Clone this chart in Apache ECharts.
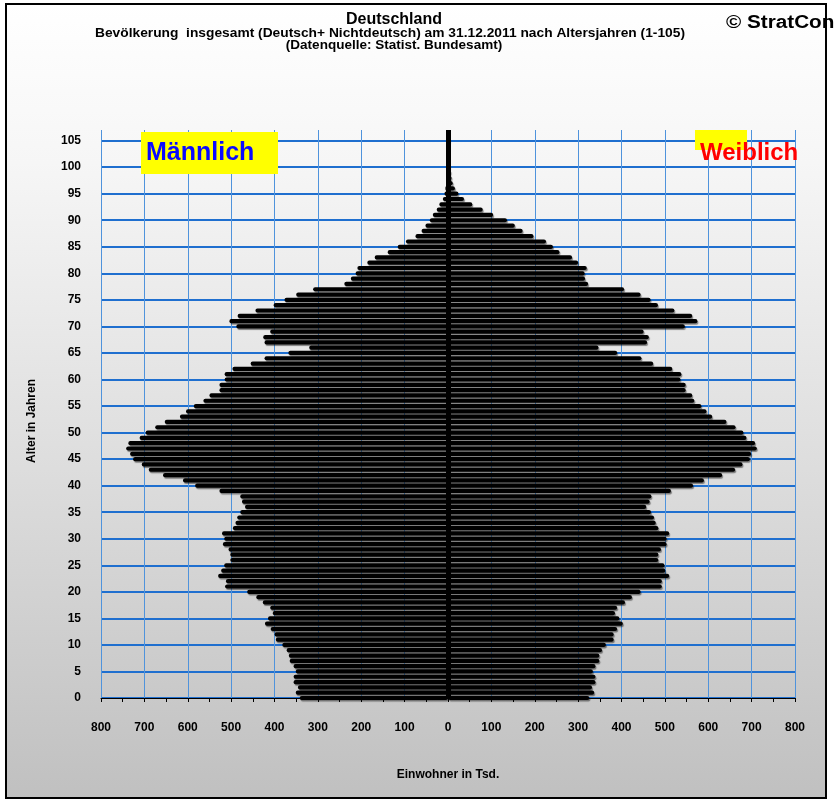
<!DOCTYPE html>
<html>
<head>
<meta charset="utf-8">
<script src="https://cdn.jsdelivr.net/npm/echarts@6/dist/echarts.min.js"></script>
<style>
html,body{margin:0;padding:0;background:#fff;}
#bg{position:absolute;left:5px;top:3px;width:822px;height:796px;background:linear-gradient(#ffffff 0%,#f6f6f6 20%,#dcdcdc 60%,#c0c0c0 100%);}
#chart{position:absolute;left:0;top:0;width:836px;height:801px;}
#border{position:absolute;left:5px;top:3px;width:818px;height:792px;border:2px solid #000;pointer-events:none;}
</style>
</head>
<body>
<div id="bg"></div>
<div id="chart"></div>
<div id="border"></div>
<script>
// ages 0..105
const ages = Array.from({length: 106}, (_, i) => i);
const maleValues = [
342,351,346,356,356,351,356,365,367,372,
382,397,400,409,422,415,404,410,427,442,
463,514,512,530,523,516,502,502,506,519,
516,521,496,490,486,479,468,475,479,527,
583,611,657,690,706,726,733,742,737,711,
697,675,653,618,604,586,564,550,527,527,
515,515,497,455,423,368,320,423,426,410,
488,504,485,444,402,377,350,311,239,224,
213,209,186,169,139,116,97,75,61,52,
42,35,26,20,12,8,6,4,3,2,
3,1,1,0.5,0.3,3
];
const femaleValues = [
326,337,332,340,340,334,340,349,349,355,
364,382,382,390,403,395,385,390,408,424,
444,493,493,510,501,499,485,485,491,504,
504,510,485,479,475,468,457,465,469,514,
565,590,632,662,679,696,699,712,708,688,
681,663,642,609,596,584,568,563,548,548,
536,538,517,473,446,390,347,459,463,451,
546,575,563,522,484,467,444,406,323,316,
315,320,300,286,257,242,226,197,172,154,
136,104,80,56,37,24,16,11,8,6,
4,2,1.5,1,0.5,4
];
const titleText = 'Deutschland';
const subtitle1 = 'Bevölkerung  insgesamt (Deutsch+ Nichtdeutsch) am 31.12.2011 nach Altersjahren (1-105)';
const subtitle2 = '(Datenquelle: Statist. Bundesamt)';

// axis categories: ages plus two empty slots above 105 (plot top)
const axisCats = ages.map(String).concat(['106','107']);
const FONT = '"Liberation Sans", Arial, sans-serif';
const showIdx = (idx) => idx % 5 === 0 && idx <= 105;

const chart = echarts.init(document.getElementById('chart'), null, {renderer: 'canvas'});
chart.setOption({
  animation: false,
  backgroundColor: 'transparent',
  textStyle: {fontFamily: FONT},
  grid: {left: 101, right: 41, top: 130, bottom: 103, containLabel: false},
  xAxis: {
    type: 'value', min: -800, max: 800, interval: 100,
    axisLine: {show: true, onZero: false, lineStyle: {color: '#000', width: 1}},
    axisTick: {show: true, length: 4, lineStyle: {color: '#000'}},
    minorTick: {show: true, splitNumber: 2, length: 4, lineStyle: {color: '#000'}},
    splitLine: {show: true, lineStyle: {color: '#4f93dc', width: 1}},
    axisLabel: {formatter: (v) => String(Math.abs(v)), fontWeight: 'bold', fontSize: 12, color: '#000', margin: 24, fontFamily: FONT},
    name: 'Einwohner in Tsd.', nameLocation: 'middle', nameGap: 71,
    nameTextStyle: {fontWeight: 'bold', fontSize: 12, color: '#000', fontFamily: FONT}
  },
  yAxis: {
    type: 'category', data: axisCats, boundaryGap: false,
    axisLine: {show: false}, axisTick: {show: false},
    axisLabel: {interval: (idx) => showIdx(idx), fontWeight: 'bold', fontSize: 12, color: '#000', margin: 20, fontFamily: FONT},
    splitLine: {show: true, interval: (idx) => showIdx(idx), lineStyle: {color: '#1f6fcf', width: 2}}
  },
  series: [
    {
      name: 'Männlich', type: 'bar', stack: 'pop', barWidth: 4.2,
      data: maleValues.map(v => -v),
      itemStyle: {color: '#000', borderRadius: 2, shadowColor: 'rgba(0,0,0,0.45)', shadowOffsetY: 1.5, shadowOffsetX: 1, shadowBlur: 1}
    },
    {
      name: 'Weiblich', type: 'bar', stack: 'pop', barWidth: 4.2,
      data: femaleValues,
      itemStyle: {color: '#000', borderRadius: 2, shadowColor: 'rgba(0,0,0,0.45)', shadowOffsetY: 1.5, shadowOffsetX: 1, shadowBlur: 1},
      markLine: {
        silent: true, symbol: 'none', label: {show: false},
        lineStyle: {color: '#000', width: 5, type: 'solid'},
        data: [{xAxis: 0}]
      }
    }
  ],
  graphic: {elements: [
    {type: 'text', x: 394, y: 20, style: {text: titleText, font: 'bold 16px ' + FONT, fill: '#000', align: 'center', verticalAlign: 'middle'}},
    {type: 'text', x: 390, y: 33, scaleX: 1.06, style: {text: subtitle1, font: 'bold 13px ' + FONT, fill: '#000', align: 'center', verticalAlign: 'middle'}},
    {type: 'text', x: 394, y: 45, scaleX: 1.04, style: {text: subtitle2, font: 'bold 13px ' + FONT, fill: '#000', align: 'center', verticalAlign: 'middle'}},
    {type: 'text', x: 726, y: 23, scaleX: 1.15, style: {text: '© StratCon', font: 'bold 18px ' + FONT, fill: '#000', align: 'left', verticalAlign: 'middle'}},
    {type: 'text', x: 32, y: 421, rotation: Math.PI / 2, style: {text: 'Alter in Jahren', font: 'bold 12px ' + FONT, fill: '#000', align: 'center', verticalAlign: 'middle'}},
    {type: 'rect', shape: {x: 141, y: 132, width: 137, height: 42}, style: {fill: '#ffff00'}, z: 10},
    {type: 'text', x: 146, y: 153, style: {text: 'Männlich', font: 'bold 25px ' + FONT, fill: '#0a0aff', align: 'left', verticalAlign: 'middle'}, z: 11},
    {type: 'rect', shape: {x: 695, y: 130, width: 52, height: 20}, style: {fill: '#ffff00'}, z: 10},
    {type: 'text', x: 700, y: 153, style: {text: 'Weiblich', font: 'bold 24px ' + FONT, fill: '#ff0000', align: 'left', verticalAlign: 'middle'}, z: 11}
  ]}
});
</script>
</body>
</html>
